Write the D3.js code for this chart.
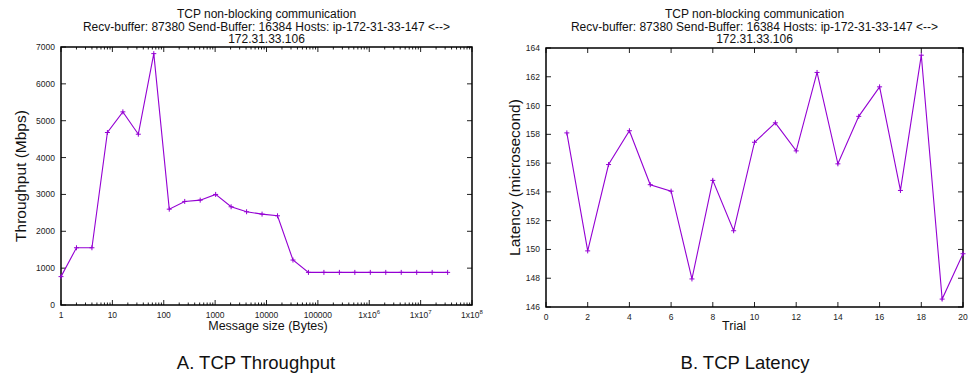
<!DOCTYPE html>
<html>
<head>
<meta charset="utf-8">
<script src="https://cdn.jsdelivr.net/npm/d3@7"></script>
<style>
  body { margin: 0; background: #fff; }
  svg { display: block; font-family: "Liberation Sans", Arial, sans-serif; }
</style>
</head>
<body>
<svg id="chart" width="971" height="375"></svg>
<script>
// throughput vs message size (bytes = 2^0 .. 2^25)
const msgSizes = d3.range(26).map(i => Math.pow(2, i));
const throughput = [770, 1553, 1553, 4680, 5240, 4634, 6820, 2600, 2810, 2845, 3000, 2665, 2530,
                    2466, 2420, 1220, 885, 885, 885, 885, 885, 885, 885, 885, 885, 885];

// latency per trial
const trials = d3.range(1, 21);
const latency = [158.1, 149.9, 155.9, 158.25, 154.5, 154.05, 147.95, 154.8, 151.3, 157.45,
                 158.8, 156.85, 162.3, 155.95, 159.25, 161.3, 154.1, 163.5, 146.55, 149.7];

const thrTicks = [0, 1000, 2000, 3000, 4000, 5000, 6000, 7000];
const sizeTicks = [1, 10, 100, 1000, 10000, 100000, 1e6, 1e7, 1e8];
const latTicks = [146, 148, 150, 152, 154, 156, 158, 160, 162, 164];
const trialTicks = [0, 2, 4, 6, 8, 10, 12, 14, 16, 18, 20];

const titleLines = ["TCP non-blocking communication",
                    "Recv-buffer: 87380 Send-Buffer: 16384 Hosts: ip-172-31-33-147 <-->",
                    "172.31.33.106"];

const lineColor = "#9400d3";
const svg = d3.select("#chart");

function drawPanel(opt) {
  const g = svg.append("g");
  const x = opt.x, y = opt.y;
  const [x0, x1] = x.range(), [y1, y0] = y.range();
  const cx = (x0 + x1) / 2;

  // title
  titleLines.forEach((t, i) => {
    g.append("text").attr("x", cx).attr("y", 18 + i * 12.5)
      .attr("text-anchor", "middle").attr("font-size", 12).attr("fill", "#111").text(t);
  });

  // ticks (inside, mirrored)
  const tk = g.append("g").attr("stroke", "#222").attr("stroke-width", 1);
  opt.yTicks.forEach(v => {
    tk.append("line").attr("x1", x0).attr("x2", x0 + 5).attr("y1", y(v)).attr("y2", y(v));
    tk.append("line").attr("x1", x1).attr("x2", x1 - 5).attr("y1", y(v)).attr("y2", y(v));
    g.append("text").attr("x", x0 - 6).attr("y", y(v) + 3).attr("text-anchor", "end")
      .attr("font-size", 8.5).attr("fill", "#222").text(v);
  });
  opt.xTicks.forEach(v => {
    tk.append("line").attr("x1", x(v)).attr("x2", x(v)).attr("y1", y1).attr("y2", y1 - 5);
    tk.append("line").attr("x1", x(v)).attr("x2", x(v)).attr("y1", y0).attr("y2", y0 + 5);
    const t = g.append("text").attr("x", x(v)).attr("y", y1 + 13).attr("text-anchor", "middle")
      .attr("font-size", 8.5).attr("fill", "#222");
    if (opt.log && v >= 1e6) {
      t.text("1x10");
      t.append("tspan").attr("font-size", 6).attr("dy", -4).text(Math.round(Math.log10(v)));
    } else {
      t.text(v);
    }
  });
  (opt.minor || []).forEach(v => {
    tk.append("line").attr("x1", x(v)).attr("x2", x(v)).attr("y1", y1).attr("y2", y1 - 2.5);
    tk.append("line").attr("x1", x(v)).attr("x2", x(v)).attr("y1", y0).attr("y2", y0 + 2.5);
  });

  // frame
  g.append("rect").attr("x", x0).attr("y", y0).attr("width", x1 - x0).attr("height", y1 - y0)
    .attr("fill", "none").attr("stroke", "#000").attr("stroke-width", 1.5);

  // line and + markers
  const pts = opt.xs.map((d, i) => [x(d), y(opt.ys[i])]);
  g.append("path").attr("d", d3.line()(pts)).attr("fill", "none")
    .attr("stroke", lineColor).attr("stroke-width", 1.1);
  g.append("g").selectAll("path").data(pts).join("path")
    .attr("d", p => `M${p[0] - 2.5},${p[1]}H${p[0] + 2.5}M${p[0]},${p[1] - 2.5}V${p[1] + 2.5}`)
    .attr("stroke", lineColor).attr("stroke-width", 1);

  // axis labels
  g.append("text").attr("transform", `translate(${opt.yLabelX},${(y0 + y1) / 2}) rotate(-90)`)
    .attr("text-anchor", "middle").attr("font-size", 15.5).attr("fill", "#111").text(opt.yLabel);
  g.append("text").attr("x", opt.xLabelX).attr("y", 330).attr("text-anchor", "middle")
    .attr("font-size", 12.5).attr("fill", "#111").text(opt.xLabel);
  g.append("text").attr("x", opt.captionX).attr("y", 369).attr("text-anchor", "middle")
    .attr("font-size", 18.5).attr("fill", "#111").text(opt.caption);
}

const minorLog = [];
for (let e = 0; e < 8; e++) for (let m = 2; m <= 9; m++) minorLog.push(m * Math.pow(10, e));

drawPanel({
  x: d3.scaleLog().domain([1, 1e8]).range([61, 472]),
  y: d3.scaleLinear().domain([0, 7000]).range([305, 47]),
  xs: msgSizes, ys: throughput,
  xTicks: sizeTicks, yTicks: thrTicks, minor: minorLog, log: true,
  yLabel: "Throughput (Mbps)", yLabelX: 26,
  xLabel: "Message size (Bytes)", xLabelX: 268,
  caption: "A. TCP Throughput", captionX: 256
});

drawPanel({
  x: d3.scaleLinear().domain([0, 20]).range([546, 963]),
  y: d3.scaleLinear().domain([146, 164]).range([307, 48]),
  xs: trials, ys: latency,
  xTicks: trialTicks, yTicks: latTicks,
  yLabel: "Latency (microsecond)", yLabelX: 520,
  xLabel: "Trial", xLabelX: 734,
  caption: "B. TCP Latency", captionX: 745
});
</script>
</body>
</html>
